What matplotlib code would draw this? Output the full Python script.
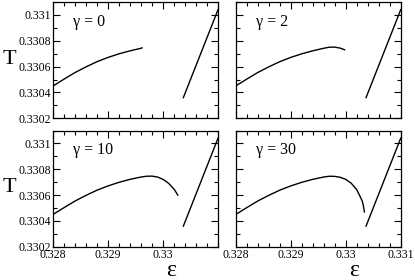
import matplotlib
matplotlib.use("Agg")
import matplotlib.pyplot as plt
from matplotlib.ticker import MultipleLocator, FixedLocator

plt.rcParams['font.family'] = ['Liberation Serif', 'DejaVu Serif']

# values
gammas = [0, 2, 10, 30]

eps_rise = [0.3280, 0.3282, 0.3284, 0.3286, 0.3288, 0.3290, 0.3292, 0.3294]
T_rise = [0.33045, 0.330503, 0.330554, 0.330598, 0.330638, 0.330671, 0.330699, 0.330722]

eps_g0 = eps_rise + [0.3296, 0.32962]
T_g0 = T_rise + [0.330742, 0.330745]

eps_g2 = eps_rise + [0.3296, 0.3297, 0.3298, 0.3299, 0.32998]
T_g2 = T_rise + [0.330742, 0.330750, 0.330751, 0.330743, 0.33073]

eps_g10 = eps_rise + [0.3296, 0.3297, 0.3298, 0.3299, 0.3300, 0.3301, 0.3302, 0.33027]
T_g10 = T_rise + [0.330740, 0.330746, 0.330747, 0.33074, 0.330722, 0.330692, 0.330647, 0.3306]

eps_g30 = eps_rise + [0.3296, 0.3297, 0.3298, 0.3299, 0.3300, 0.3301, 0.3302,
                      0.33025, 0.3303, 0.33032, 0.33034]
T_g30 = T_rise + [0.330740, 0.330746, 0.330745, 0.330738, 0.330722, 0.330692, 0.330642,
                  0.3306, 0.330555, 0.33052, 0.33047]

eps_line = [0.33037, 0.33100]
T_line = [0.33036, 0.33104]

curves = [(eps_g0, T_g0), (eps_g2, T_g2), (eps_g10, T_g10), (eps_g30, T_g30)]

x_ticks = [0.328, 0.329, 0.33, 0.331]
x_labels = ['0.328', '0.329', '0.33', '0.331']
y_ticks = [0.3302, 0.3304, 0.3306, 0.3308, 0.331]
y_labels = ['0.3302', '0.3304', '0.3306', '0.3308', '0.331']

W, H = 415, 280
fig = plt.figure(figsize=(W / 100, H / 100), dpi=100)

lefts = [53, 235.7]
tops = [2, 130.5]
aw, ah = 165, 116.3

for i, g in enumerate(gammas):
    r, c = divmod(i, 2)
    ax = fig.add_axes([lefts[c] / W, 1 - (tops[r] + ah) / H, aw / W, ah / H])
    ex, ty = curves[i]
    ax.plot(ex, ty, color='black', lw=1.0)
    ax.plot(eps_line, T_line, color='black', lw=1.0)
    ax.set_xlim(0.328, 0.331)
    ax.set_ylim(0.3302, 0.3311)

    ax.xaxis.set_major_locator(FixedLocator(x_ticks))
    ax.xaxis.set_minor_locator(MultipleLocator(0.0002))
    ax.yaxis.set_major_locator(FixedLocator(y_ticks))
    ax.yaxis.set_minor_locator(MultipleLocator(0.0001))
    ax.tick_params(which='both', direction='in', top=True, right=True,
                   labelsize=8.5, pad=1.5, width=0.8)
    ax.tick_params(which='major', length=5)
    ax.tick_params(which='minor', length=3)
    for s in ax.spines.values():
        s.set_linewidth(0.9)

    # only bottom row gets x labels, only left column gets y labels
    if r == 1:
        xl = x_labels if c == 1 else x_labels[:3] + ['']
        ax.set_xticklabels(xl)
    else:
        ax.set_xticklabels([])
    if c == 0:
        ax.set_yticklabels(y_labels)
    else:
        ax.set_yticklabels([])

    ax.text(0.12, 0.83, '\u03b3 = ' + str(g), transform=ax.transAxes,
            fontsize=11.5, va='center', ha='left')

# axis labels
for r in range(2):
    fig.text(9 / W, 1 - (tops[r] + 57) / H, 'T', fontsize=16, ha='center', va='center')
for c in range(2):
    fig.text((lefts[c] + 118) / W, 1 - 271 / H, '\u03b5', fontsize=17, ha='center', va='center')

fig.savefig('out.png', dpi=100)
